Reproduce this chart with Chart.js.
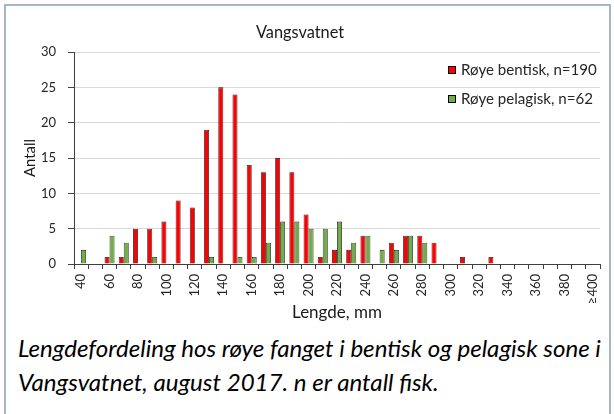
<!DOCTYPE html>
<html>
<head>
<meta charset="utf-8">
<script src="https://cdn.jsdelivr.net/npm/chart.js@4.4.1/dist/chart.umd.min.js"></script>
<style>
  html, body { margin: 0; padding: 0; background: #fff; width: 614px; height: 414px; overflow: hidden; }
  #frame { position: absolute; left: 4px; top: 4px; width: 603px; height: 420px;
           border-left: 2px solid #a7b5c9; border-top: 2px solid #a7b5c9; border-right: 2px solid #a7b5c9; }
  #wrap { position: absolute; left: 0; top: 0; width: 614px; height: 330px; }
  #caption { position: absolute; left: 18px; top: 331px; font-family: Lato, "Open Sans", sans-serif;
             font-style: italic; font-size: 20px; line-height: 34px; color: #000; white-space: nowrap; }
</style>
</head>
<body>
<div id="frame"></div>
<div id="wrap"><canvas id="c" width="614" height="330"></canvas></div>
<div id="caption"><span id="l1">Lengdefordeling hos røye fanget i bentisk og pelagisk sone i</span><br><span id="l2">Vangsvatnet, august 2017. n er antall fisk.</span></div>
<script>
const chartTitle = "Vangsvatnet";
const categories = ["40","50","60","70","80","90","100","110","120","130","140","150","160","170","180","190","200","210","220","230","240","250","260","270","280","290","300","310","320","330","340","350","360","370","380","390","≥400"];
const seriesNames = ["Røye bentisk, n=190", "Røye pelagisk, n=62"];
const bentisk  = [0,0,1,1,5,5,6,9,8,19,25,24,14,13,15,13,7,1,2,2,4,0,3,4,4,3,0,1,0,1,0,0,0,0,0,0,0];
const pelagisk = [2,0,4,3,0,1,0,0,0,1,0,1,1,3,6,6,5,5,6,3,4,2,2,4,3,0,0,0,0,0,0,0,0,0,0,0,0];
const yTicks = [0,5,10,15,20,25,30];
const xTitle = "Lengde, mm";
const yTitle = "Antall";

const FONT = "Lato, 'Open Sans', sans-serif";
const mctx = document.createElement('canvas').getContext('2d');
function fitSize(text, target, style) {
  mctx.font = (style || '') + " 20px " + FONT;
  const w = mctx.measureText(text).width;
  return 20 * target / w;
}

document.getElementById('caption').style.fontSize =
  fitSize(document.getElementById('l1').textContent, 583, 'italic').toFixed(2) + 'px';

const xTitleSize = fitSize(xTitle, 90);
const yTitleSize = fitSize(yTitle, 38);
const legendSize = fitSize(seriesNames[0], 136);
const titleSize = legendSize * 1.08;
const tickSize = 13;

const colors = ["#ff0000", "#70ad47"];

const legendPlugin = {
  id: 'customLegend',
  afterDraw(chart) {
    const ctx = chart.ctx;
    const a = chart.chartArea;
    const x0 = a.right - 152;
    const ys = [a.top + 18, a.top + 47];
    ctx.save();
    ctx.font = legendSize.toFixed(2) + "px " + FONT;
    ctx.textBaseline = 'middle';
    ctx.textAlign = 'left';
    chart.data.datasets.forEach((ds, i) => {
      const y = ys[i];
      ctx.fillStyle = ds.backgroundColor;
      ctx.fillRect(x0, y - 4, 8, 8);
      ctx.strokeStyle = '#000';
      ctx.lineWidth = 1;
      ctx.strokeRect(x0 + 0.5, y - 3.5, 7, 7);
      ctx.fillStyle = '#262626';
      ctx.fillText(ds.label, x0 + 13, y + 0.5);
    });
    ctx.restore();
  }
};

new Chart(document.getElementById('c'), {
  type: 'bar',
  data: {
    labels: categories,
    datasets: [
      { label: seriesNames[0], data: bentisk, backgroundColor: colors[0], borderColor: '#1a1a1a', borderWidth: 0.8,
        categoryPercentage: 0.7, barPercentage: 1.0, inflateAmount: 0 },
      { label: seriesNames[1], data: pelagisk, backgroundColor: colors[1], borderColor: '#1a1a1a', borderWidth: 0.8,
        categoryPercentage: 0.7, barPercentage: 1.0, inflateAmount: 0 }
    ]
  },
  options: {
    responsive: false,
    animation: false,
    events: [],
    layout: { padding: { left: 0, right: 14, top: 0, bottom: 0 } },
    plugins: {
      legend: { display: false },
      tooltip: { enabled: false },
      title: {
        display: true, text: chartTitle, color: '#1a1a1a',
        font: { family: FONT, size: titleSize, weight: 'normal', lineHeight: 1.2 },
        padding: { top: 33 - titleSize * 0.6, bottom: 52 - 33 - titleSize * 0.6 }
      }
    },
    scales: {
      x: {
        grid: { display: true, drawOnChartArea: false, drawTicks: true, tickLength: 5, offset: true,
                tickColor: '#404040', tickWidth: 1 },
        border: { display: true, color: '#404040', width: 1 },
        ticks: {
          autoSkip: false, minRotation: 90, maxRotation: 90, padding: 5,
          color: '#262626', font: { family: FONT, size: tickSize },
          callback: function(v, i) { return i % 2 === 0 ? categories[i] : ''; }
        },
        title: { display: true, text: xTitle, color: '#1a1a1a',
                 font: { family: FONT, size: xTitleSize, lineHeight: 1.2 }, padding: { top: 2, bottom: 330 - 313 - xTitleSize * 0.6 } },
        afterFit: function(s) { s.height = 66; }
      },
      y: {
        min: 0, max: 30,
        afterBuildTicks: function(s) { s.ticks = yTicks.map(v => ({ value: v })); },
        grid: { color: '#d9d9d9', lineWidth: 1, drawTicks: true, tickLength: 6, tickColor: '#404040' },
        border: { display: true, color: '#404040', width: 1 },
        ticks: { color: '#262626', padding: 12, font: { family: FONT, size: tickSize } },
        title: { display: true, text: yTitle, color: '#1a1a1a',
                 font: { family: FONT, size: yTitleSize, lineHeight: 1.2 }, padding: { top: 30 - yTitleSize * 0.6, bottom: 4 } },
        afterFit: function(s) { s.width = 74; }
      }
    }
  },
  plugins: [legendPlugin]
});
</script>
</body>
</html>
